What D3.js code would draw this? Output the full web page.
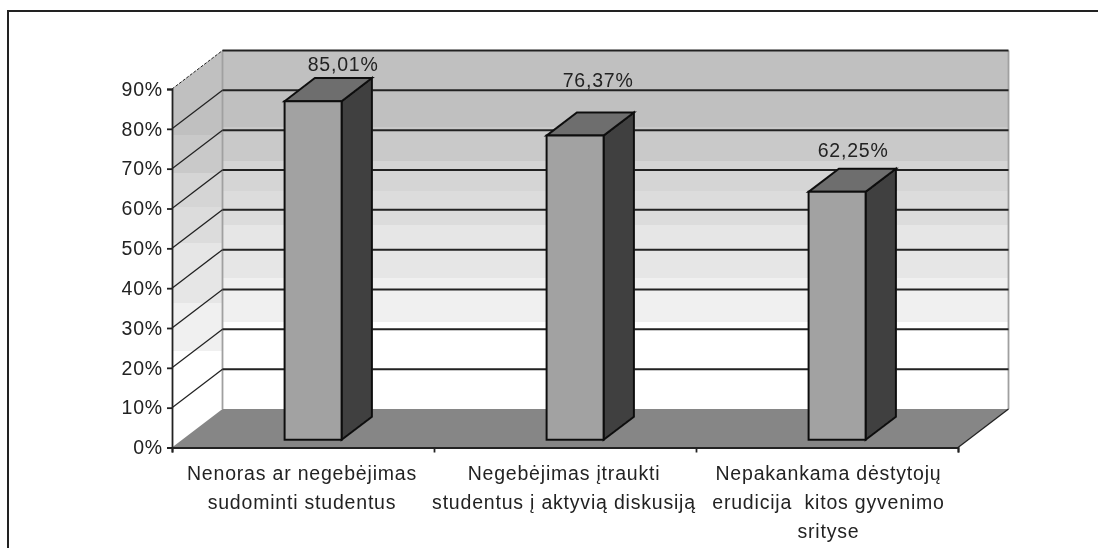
<!DOCTYPE html>
<html>
<head>
<meta charset="utf-8">
<script src="https://cdn.jsdelivr.net/npm/d3@7/dist/d3.min.js"></script>
<style>
html,body{margin:0;padding:0;background:#fff;overflow:hidden}
svg{display:block}
text{font-family:"Liberation Sans",Arial,sans-serif;font-size:19.5px;letter-spacing:0.8px;fill:#222}
</style>
</head>
<body>
<svg id="c" width="1098" height="548"></svg>
<script>
const categories = [
  ["Nenoras ar negebėjimas", "sudominti studentus"],
  ["Negebėjimas įtraukti", "studentus į aktyvią diskusiją"],
  ["Nepakankama dėstytojų", "erudicija  kitos gyvenimo", "srityse"]
];
const values = [85.01, 76.37, 62.25];
const valueLabels = ["85,01%", "76,37%", "62,25%"];
const yTicks = [0, 10, 20, 30, 40, 50, 60, 70, 80, 90];

// layout
const W = 1098, H = 548;
const x0 = 172, x1 = 958, yBottom = 447.5, yTop = 89;
const depthX = 50.5, depthY = -38.5;
const barZ0 = 0.2, barZ1 = 0.8, barFrac = 57 / 262;
const labelOffsets = [[30, -30], [23, -49], [16, -35]];
const catOffsets = [-1, -1, 1.5];

const svg = d3.select("#c");
const defs = svg.append("defs");
defs.append("filter").attr("id", "soft").attr("x", "-2%").attr("y", "-2%").attr("width", "104%").attr("height", "104%")
  .append("feGaussianBlur").attr("stdDeviation", 0.5);

const bands = [
  [0, "#c0c0c0"], [0.213, "#c9c9c9"], [0.309, "#d5d5d5"], [0.393, "#dcdcdc"],
  [0.486, "#e6e6e6"], [0.635, "#f0f0f0"], [0.756, "#ffffff"], [1, "#ffffff"]
];
const grad = defs.append("linearGradient").attr("id", "wall")
  .attr("x1", 0).attr("y1", 0).attr("x2", 0).attr("y2", 1);
bands.forEach((b, i) => {
  grad.append("stop").attr("offset", b[0]).attr("stop-color", b[1]);
  if (i < bands.length - 1) grad.append("stop").attr("offset", bands[i + 1][0]).attr("stop-color", b[1]);
});

const y = d3.scaleLinear().domain([0, 90]).range([yBottom, yTop]);
const x = d3.scaleBand().domain(d3.range(categories.length)).range([x0, x1]);
const xEdge = d3.scaleLinear().domain([0, categories.length]).range([x0, x1]);
const px = (xv, z) => xv + z * depthX;
const py = (yv, z) => yv + z * depthY;
const pt = (xv, v, z) => [px(xv, z), py(y(v), z)];
const line = d3.line();

const g = svg.append("g").attr("filter", "url(#soft)");

// frame
g.append("path").attr("d", `M8,${H}V11H${W}`).attr("fill", "none").attr("stroke", "#222").attr("stroke-width", 2);

// walls and floor
g.append("path").attr("d", line([pt(x0, 0, 0), pt(x0, 90, 0), pt(x0, 90, 1), pt(x0, 0, 1)]) + "Z").attr("fill", "url(#wall)");
g.append("path").attr("d", line([pt(x0, 0, 1), pt(x0, 90, 1), pt(x1, 90, 1), pt(x1, 0, 1)]) + "Z").attr("fill", "url(#wall)");
g.append("path").attr("d", line([pt(x0, 0, 0), pt(x1, 0, 0), pt(x1, 0, 1), pt(x0, 0, 1)]) + "Z").attr("fill", "#868686");

// wall edges
g.append("path").attr("d", line([pt(x0, 0, 1), pt(x0, 90, 1)])).attr("stroke", "#a0a0a0").attr("stroke-width", 1.8).attr("fill", "none");
g.append("path").attr("d", line([pt(x1, 0, 1), pt(x1, 90, 1)])).attr("stroke", "#a0a0a0").attr("stroke-width", 1.8).attr("fill", "none");

// gridlines: side wall diagonals, then back wall
const grid = g.append("g").attr("fill", "none").attr("stroke", "#222");
yTicks.filter(t => t > 0).forEach(t => {
  grid.append("path").attr("stroke-width", t === 90 ? 1 : 1.3).attr("stroke-dasharray", t === 90 ? "3 1.5" : null)
    .attr("d", line([pt(x0, t, 0), pt(x0, t, 1)]));
  grid.append("path").attr("stroke-width", 2).attr("d", line([pt(x0, t, 1), pt(x1, t, 1)]));
});
g.append("path").attr("d", line([pt(x1, 0, 0), pt(x1, 0, 1)])).attr("stroke", "#222").attr("stroke-width", 1.3).attr("fill", "none");

// bars
const bw = x.bandwidth() * barFrac;
const bars = g.selectAll("g.bar").data(values).join("g").attr("class", "bar")
  .attr("stroke", "#111").attr("stroke-width", 2).attr("stroke-linejoin", "miter");
bars.each(function (v, i) {
  const s = d3.select(this);
  const l = x(i) + (x.bandwidth() - bw) / 2, r = l + bw;
  s.append("path").attr("fill", "#404040")
    .attr("d", line([pt(r, 0, barZ0), pt(r, v, barZ0), pt(r, v, barZ1), pt(r, 0, barZ1)]) + "Z");
  s.append("path").attr("fill", "#6e6e6e")
    .attr("d", line([pt(l, v, barZ0), pt(l, v, barZ1), pt(r, v, barZ1), pt(r, v, barZ0)]) + "Z");
  s.append("path").attr("fill", "#a2a2a2")
    .attr("d", line([pt(l, 0, barZ0), pt(l, v, barZ0), pt(r, v, barZ0), pt(r, 0, barZ0)]) + "Z");
});

// axes
const yAxis = d3.axisLeft(y).tickValues(yTicks).tickFormat(d => d + "%").tickSize(5).tickPadding(4);
const ga = g.append("g").attr("transform", `translate(${x0},0)`).call(yAxis);
const xAxis = d3.axisBottom(xEdge).ticks(categories.length).tickFormat("").tickSize(5).tickSizeOuter(5);
const gb = g.append("g").attr("transform", `translate(0,${yBottom})`).call(xAxis);
[ga, gb].forEach(a => {
  a.selectAll("path,line").attr("stroke", "#222").attr("stroke-width", 1.8);
  a.attr("font-family", null).attr("font-size", null);
});

// category labels
g.selectAll("text.cat").data(categories).join("text").attr("class", "cat")
  .attr("text-anchor", "middle").attr("xml:space", "preserve").style("white-space", "pre")
  .each(function (lines, i) {
    d3.select(this).selectAll("tspan").data(lines).join("tspan")
      .attr("x", x(i) + x.bandwidth() / 2 + catOffsets[i])
      .attr("y", (d, k) => 480 + k * 29)
      .text(d => d);
  });

// value labels
g.selectAll("text.val").data(values).join("text").attr("class", "val")
  .attr("text-anchor", "middle")
  .attr("x", (v, i) => x(i) + x.bandwidth() / 2 + barZ0 * depthX + labelOffsets[i][0])
  .attr("y", (v, i) => py(y(v), barZ0) + labelOffsets[i][1])
  .text((v, i) => valueLabels[i]);
</script>
</body>
</html>
